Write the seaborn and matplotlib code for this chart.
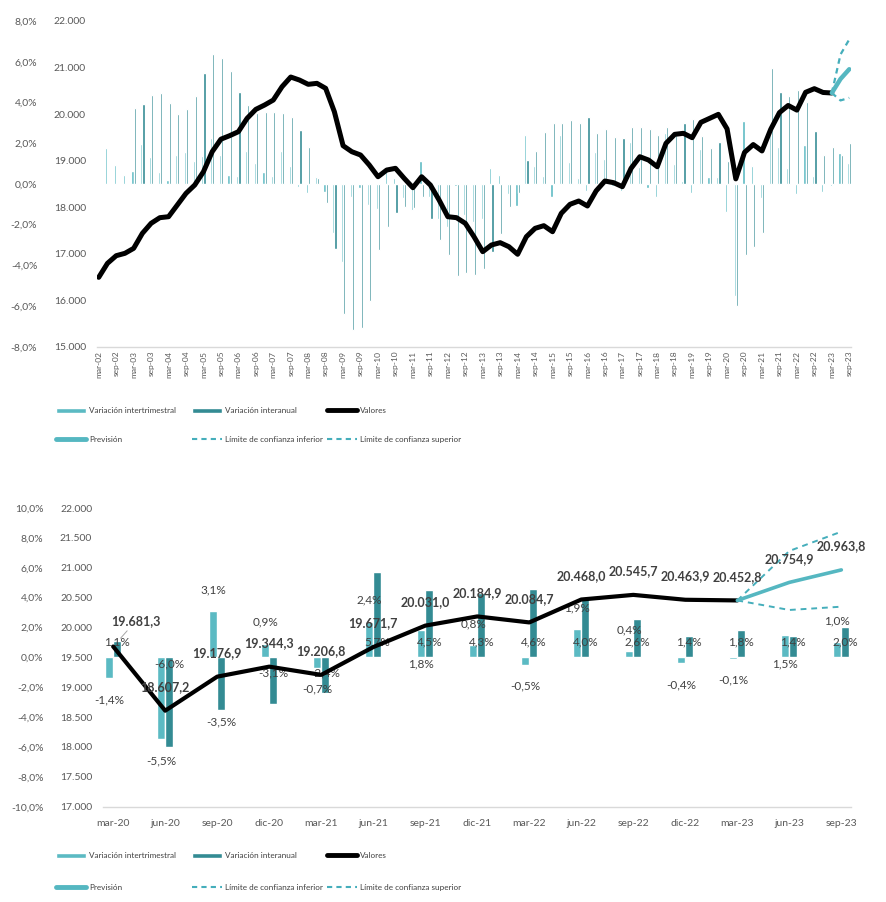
import numpy as np
import pandas as pd
import seaborn as sns
import matplotlib.pyplot as plt
from matplotlib import font_manager as fm
from matplotlib.lines import Line2D
from matplotlib.patches import Patch
from matplotlib.ticker import FuncFormatter
from matplotlib.textpath import TextPath

# ---------------------------------------------------------------
# Datos: ocupados (miles), serie trimestral mar-02 .. sep-23
# ---------------------------------------------------------------
meses = ['mar', 'jun', 'sep', 'dic']
trimestres = [f'{m}-{a % 100:02d}' for a in range(2002, 2024) for m in meses][:87]

valores = [16491, 16792, 16956, 17007, 17114, 17437, 17652, 17773, 17794, 18045,
           18296, 18475, 18761, 19191, 19460, 19535, 19621, 19908, 20101, 20194,
           20301, 20587, 20796, 20731, 20639, 20660, 20553, 20050, 19320, 19191,
           19120, 18905, 18653, 18797, 18834, 18619, 18417, 18653, 18475, 18153,
           17794, 17773, 17652, 17364, 17042, 17186, 17236, 17149, 16986, 17364,
           17544, 17601, 17471, 17866, 18060, 18131, 18024, 18350, 18561, 18525,
           18439, 18834, 19083, 19012, 18868, 19371, 19564, 19586, 19492, 19822,
           19908, 19994,
           19681.3, 18607.2, 19176.9, 19344.3, 19206.8, 19671.7, 20031.0, 20184.9,
           20084.7, 20468.0, 20545.7, 20463.9, 20452.8]

# prevision y limites de confianza (mar-23 .. sep-23)
prevision = [20452.8, 20754.9, 20963.8]
lim_inferior = [20452.8, 20293, 20348]
lim_superior = [20452.8, 21281, 21604]

# variaciones (%) mar-02 .. sep-23
var_trim = [None, 1.75, 0.93, 0.44, 0.63, 1.96, 1.31, 0.57, 0.19, 1.42,
            1.55, 1.14, 1.37, 2.27, 1.42, 0.44, 0.39, 1.62, 1.04, 0.57,
            0.39, 1.62, 0.88, -0.14, -0.46, 0.32, -0.38, -2.4, -3.83, -0.63,
            -0.22, -1.04, -1.25, 0.6, 0.3, -0.71, -1.3, 1.12, -0.66, -1.74,
            -2.1, -0.1, -1.53, -1.86, -1.71, 0.8, 0.44, -0.51, -1.07, 2.40,
            0.88, 0.39, -0.63, 2.4, 1.06, 0.28, -0.33, 1.55, 1.22, -0.1,
            -0.33, 2.07, 0.85, -0.22, -0.63, 2.48, 0.98, 0.15, -0.46, 1.71,
            0.36, 0.36,
            -1.4, -5.5, 3.1, 0.9, -0.7, 2.4, 1.8, 0.8, -0.5, 1.9, 0.4, -0.4, -0.1, 1.5, 1.0]
var_anual = [None, None, None, None, 3.74, 3.91, 4.37, 4.45, 3.99, 3.43,
             3.68, 4.30, 5.45, 6.36, 6.2, 5.56, 4.53, 3.88, 3.50, 3.55,
             3.55, 3.50, 3.30, 2.65, 1.80, 0.3, -0.92, -3.2, -6.4, -7.17,
             -7.09, -5.74, -3.25, -2.1, -1.41, -1.12, -1.2, -0.63, -1.74, -2.77,
             -3.5, -4.54, -4.37, -4.46, -4.2, -3.33, -2.46, -1.12, -0.43, 1.17,
             1.62, 2.57, 3.0, 3.0, 3.14, 3.0, 3.3, 2.48, 2.7, 2.32,
             2.27, 2.81, 2.81, 2.7, 2.4, 2.81, 2.4, 3.0, 3.17, 2.35,
             1.78, 2.07,
             1.1, -6.0, -3.5, -3.1, -2.4, 5.7, 4.5, 4.3, 4.6, 4.0, 2.6, 1.4, 1.8, 1.4, 2.0]

# detalle desde mar-20
n_det = 15
trim_det = trimestres[-n_det:]
val_det = valores[-13:]

C_TRIM = '#5BBAC3'
C_ANUAL = '#338B93'
C_PREV = '#55B7C1'
C_LIM = '#45AEBB'
C_TXT = '#404040'
C_TICK = '#595959'
SERIES = ['Variación intertrimestral', 'Variación interanual']

sns.set_theme(style='white')
plt.rcParams['font.family'] = ['Lato', 'DejaVu Sans']

# fuente mas estrecha disponible para las leyendas
instaladas = {f.name for f in fm.fontManager.ttflist}
candidatas = ['Liberation Sans Narrow', 'DejaVu Sans Condensed', 'Noto Sans CJK JP',
              'Lato', 'Liberation Sans', 'Roboto', 'Inter', 'Noto Sans', 'DejaVu Sans']
mejor, mejor_ancho = 'DejaVu Sans', None
for fam in candidatas:
    if fam not in instaladas:
        continue
    w = TextPath((0, 0), 'Límite de confianza inferior', size=10,
                 prop=fm.FontProperties(family=fam)).get_extents().width
    if mejor_ancho is None or w < mejor_ancho:
        mejor, mejor_ancho = fam, w
fuente_ley = fm.FontProperties(family=mejor)
tam_ley = min(8.0, 10 * (97 * 0.72) / mejor_ancho)
fuente_ley.set_size(tam_ley)


def fmt_miles(v, _=None):
    return f'{v:,.0f}'.replace(',', '.')


def fmt_val(v):
    return f'{v:,.1f}'.replace(',', 'X').replace('.', ',').replace('X', '.')


def fmt_pct(v, _=None):
    return f'{v:.1f}%'.replace('.', ',')


def barras(ax, cats, trim, anual, width):
    df = pd.DataFrame({'trimestre': cats * 2,
                       'serie': [SERIES[0]] * len(cats) + [SERIES[1]] * len(cats),
                       'valor': list(trim) + list(anual)}).dropna()
    sns.barplot(data=df, x='trimestre', y='valor', hue='serie', order=cats,
                hue_order=SERIES, palette=[C_TRIM, C_ANUAL], width=width,
                saturation=1, errorbar=None, legend=False, ax=ax)
    ax.set_xlabel('')
    ax.set_ylabel('')


def estilo(ax, axv, pad_pct, pad_val):
    for s in ax.spines.values():
        s.set_visible(False)
    for s in axv.spines.values():
        s.set_visible(False)
    ax.spines['bottom'].set_visible(True)
    ax.spines['bottom'].set_color('#D9D9D9')
    ax.spines['bottom'].set_linewidth(1)
    ax.yaxis.set_major_formatter(FuncFormatter(fmt_pct))
    axv.yaxis.set_major_formatter(FuncFormatter(fmt_miles))
    axv.yaxis.tick_left()
    ax.tick_params(axis='y', length=0, pad=pad_pct, labelsize=7.5, labelcolor=C_TICK)
    axv.tick_params(axis='y', length=0, pad=pad_val, labelsize=7.5, labelcolor=C_TICK)
    ax.tick_params(axis='x', length=0, labelcolor=C_TICK)
    ax.grid(False)
    axv.grid(False)


def leyenda(fig, y_fila1, paso):
    h = [Patch(facecolor=C_TRIM), Line2D([], [], color=C_PREV, lw=3.5, solid_capstyle='round'),
         Patch(facecolor=C_ANUAL), Line2D([], [], color=C_LIM, lw=1.5, ls=(0, (2.5, 2))),
         Line2D([], [], color='black', lw=3.5, solid_capstyle='round'),
         Line2D([], [], color=C_LIM, lw=1.5, ls=(0, (2.5, 2)))]
    l = ['Variación intertrimestral', 'Previsión', 'Variación interanual',
         'Límite de confianza inferior', 'Valores', 'Límite de confianza superior']
    fs_px = tam_ley / 0.72
    for k, x in enumerate([56, 192, 327]):
        fig.legend(h[2 * k:2 * k + 2], l[2 * k:2 * k + 2], loc='center left',
                   bbox_to_anchor=(x / 887, 1 - (y_fila1 + paso / 2) / 902), frameon=False,
                   borderpad=0, borderaxespad=0, handlelength=30 / fs_px, handleheight=0.6,
                   handletextpad=3 / fs_px, labelspacing=(paso - fs_px) / fs_px,
                   prop=fuente_ley, labelcolor=C_TXT)


fig = plt.figure(figsize=(8.87, 9.02), dpi=100)

# ---------------------------- grafico superior ----------------------------
ax1 = fig.add_axes([97 / 887, 1 - 346.7 / 902, 754 / 887, 325.7 / 902])
ax1v = ax1.twinx()
barras(ax1, trimestres, var_trim, var_anual, 0.5)
x_obs = np.arange(len(valores))
x_prev = np.arange(len(valores) - 1, len(trimestres))
sns.lineplot(x=x_obs, y=valores, color='black', lw=3.6, ax=ax1v, errorbar=None)
sns.lineplot(x=x_prev, y=lim_inferior, color=C_LIM, lw=1.6, ls=(0, (2.5, 2)), ax=ax1v, errorbar=None)
sns.lineplot(x=x_prev, y=lim_superior, color=C_LIM, lw=1.6, ls=(0, (2.5, 2)), ax=ax1v, errorbar=None)
sns.lineplot(x=x_prev, y=prevision, color=C_PREV, lw=3.2, ax=ax1v, errorbar=None)
ax1.set_xlim(-0.2, 86.2)
ax1.set_ylim(-8, 8)
ax1.set_yticks(np.arange(-8, 8.1, 2))
ax1v.set_ylim(15000, 22000)
ax1v.set_yticks(np.arange(15000, 22001, 1000))
ax1.set_xticks(np.arange(0, len(trimestres), 2))
ax1.set_xticklabels(trimestres[::2], rotation=90, fontsize=6)
estilo(ax1, ax1v, 43, 8)
ax1.tick_params(axis='x', pad=3)

# ---------------------------- grafico inferior ----------------------------
ax2 = fig.add_axes([103.3 / 887, 1 - 806.7 / 902, 747.4 / 887, 298.7 / 902])
ax2v = ax2.twinx()
barras(ax2, trim_det, var_trim[-n_det:], var_anual[-n_det:], 0.31)
x_det = np.arange(len(val_det))
x_pdet = np.arange(len(val_det) - 1, n_det)
sns.lineplot(x=x_det, y=val_det, color='black', lw=3, ax=ax2v, errorbar=None)
sns.lineplot(x=x_pdet, y=lim_inferior, color=C_LIM, lw=1.4, ls=(0, (3, 2.5)), ax=ax2v, errorbar=None)
sns.lineplot(x=x_pdet, y=lim_superior, color=C_LIM, lw=1.4, ls=(0, (3, 2.5)), ax=ax2v, errorbar=None)
sns.lineplot(x=x_pdet, y=prevision, color=C_PREV, lw=2.6, ax=ax2v, errorbar=None)
ax2.set_xlim(-0.19, 14.18)
ax2.set_ylim(-10, 10)
ax2.set_yticks(np.arange(-10, 10.1, 2))
ax2v.set_ylim(17000, 22000)
ax2v.set_yticks(np.arange(17000, 22001, 500))
ax2.set_xticks(np.arange(n_det))
ax2.set_xticklabels(trim_det, fontsize=7.5)
estilo(ax2, ax2v, 43, 8)
ax2.tick_params(axis='x', pad=9)

# etiquetas de las barras
lab_kw = dict(textcoords='offset points', ha='center', va='center', fontsize=8.5, color=C_TXT)
bajo_cero = ['sep-21', 'jun-23']       # etiquetas intertrimestrales movidas bajo el eje
extremo = ['sep-20']                   # etiqueta interanual en el extremo de la barra
for bar, cat in zip(ax2.containers[0], trim_det):
    h = bar.get_height()
    xc = bar.get_x() + bar.get_width() / 2
    if cat in bajo_cero:
        ax2.annotate(fmt_pct(h), (xc, 0), xytext=(0, -5), **lab_kw)
    else:
        ax2.annotate(fmt_pct(h), (xc, h), xytext=(0, 15.5 if h >= 0 else -15.5), **lab_kw)
for bar, cat in zip(ax2.containers[1], trim_det):
    h = bar.get_height()
    xc = bar.get_x() + bar.get_width() / 2
    if cat in extremo:
        ax2.annotate(fmt_pct(h), (xc, h), xytext=(0, -8.5), **lab_kw)
    elif cat == 'jun-20':
        ax2.annotate(fmt_pct(h), (xc, 0), xytext=(0, -5), **lab_kw)
    else:
        ax2.annotate(fmt_pct(h), (xc, 0), xytext=(0, 10.8 if h >= 0 else -11), **lab_kw)

# etiquetas de valores
val_kw = dict(textcoords='offset points', ha='center', va='center', fontsize=9,
              fontweight='bold', color=C_TXT)
for i, v in enumerate(val_det):
    if i == 0:
        ax2v.annotate(fmt_val(v), (i, v), xytext=(16, 18), arrowprops=dict(
            arrowstyle='-', color='#A6A6A6', lw=0.7, shrinkA=0, shrinkB=8), **val_kw)
    else:
        ax2v.annotate(fmt_val(v), (i, v), xytext=(0, 17), **val_kw)
for i, v in zip(x_pdet[1:], prevision[1:]):
    ax2v.annotate(fmt_val(v), (i, v), xytext=(0, 17), **val_kw)

leyenda(fig, 410, 30)
leyenda(fig, 855, 33)

fig.savefig('out.png', dpi=100, facecolor='white')
